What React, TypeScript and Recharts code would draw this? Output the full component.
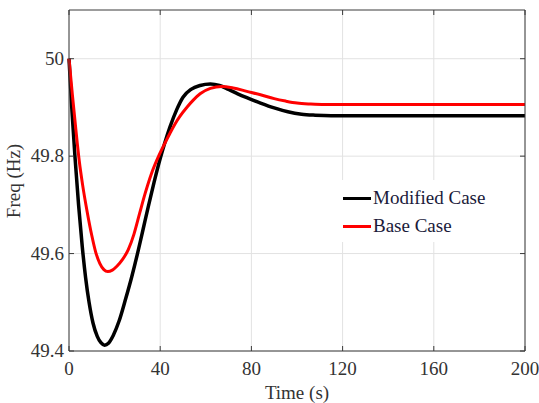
import { LineChart, Line, XAxis, YAxis, CartesianGrid, Legend } from "recharts";

// values
const modifiedTime = [0, 1.2, 2.6, 4.2, 5.8, 7.3, 8.8, 10.5, 12.4, 14, 15.6, 17.3, 19.4, 22, 24.6, 27.5, 30.4, 32.6, 34.8, 37.3, 40, 42, 44.3, 47.2, 50, 53.5, 57.5, 62, 66, 70, 74, 78, 84, 90, 96, 102, 108, 115, 200];
const modifiedFreq = [50.0, 49.9, 49.8, 49.7, 49.615, 49.55, 49.5, 49.458, 49.43, 49.417, 49.412, 49.416, 49.432, 49.462, 49.503, 49.552, 49.607, 49.652, 49.697, 49.746, 49.795, 49.827, 49.86, 49.895, 49.921, 49.937, 49.945, 49.948, 49.945, 49.937, 49.928, 49.92, 49.909, 49.899, 49.891, 49.886, 49.884, 49.883, 49.883];

const baseTime = [0, 1.5, 3, 4.5, 6, 8, 10, 11.7, 13.5, 15.3, 17, 19, 21, 23.5, 26, 28.5, 31, 33.3, 36, 39.6, 42, 44.3, 46.5, 48.7, 52, 54.5, 57.5, 62, 67, 72, 78, 84, 90, 95, 100, 106, 112, 200];
const baseFreq = [50.0, 49.925, 49.855, 49.79, 49.74, 49.685, 49.637, 49.603, 49.58, 49.567, 49.563, 49.566, 49.574, 49.588, 49.608, 49.64, 49.683, 49.722, 49.762, 49.803, 49.826, 49.847, 49.866, 49.882, 49.902, 49.915, 49.928, 49.939, 49.943, 49.94, 49.933, 49.926, 49.918, 49.913, 49.909, 49.907, 49.906, 49.906];

const seriesNames = ["Modified Case", "Base Case"];
const timeTicks = [0, 40, 80, 120, 160, 200];
const freqTicks = [49.4, 49.6, 49.8, 50];

const modifiedData = modifiedTime.map((t, i) => ({ t, f: modifiedFreq[i] }));
const baseData = baseTime.map((t, i) => ({ t, f: baseFreq[i] }));

const FONT = "'Liberation Serif', 'Times New Roman', serif";
const AXIS = "#3a3a3a";
const TEXT = "#333";

function BottomTick({ x, y, payload }: any) {
  return (
    <g>
      <line x1={x} y1={y} x2={x} y2={y - 5} stroke={AXIS} />
      <text x={x} y={y + 24} textAnchor="middle" fontSize={19} fontFamily={FONT} fill={TEXT}>
        {payload.value}
      </text>
    </g>
  );
}

function LeftTick({ x, y, payload }: any) {
  return (
    <g>
      <line x1={x} y1={y} x2={x + 5} y2={y} stroke={AXIS} />
      <text x={x - 5} y={y + 6} textAnchor="end" fontSize={19} fontFamily={FONT} fill={TEXT}>
        {payload.value}
      </text>
    </g>
  );
}

function TopTick({ x, y }: any) {
  return <line x1={x} y1={y} x2={x} y2={y + 5} stroke={AXIS} />;
}

function RightTick({ x, y }: any) {
  return <line x1={x} y1={y} x2={x - 5} y2={y} stroke={AXIS} />;
}

function YTitle() {
  return (
    <text x={20} y={181} transform="rotate(-90 20 181)" textAnchor="middle" fontSize={19} fontFamily={FONT} fill={TEXT}>
      Freq (Hz)
    </text>
  );
}

function XTitle() {
  return (
    <text x={297} y={399} textAnchor="middle" fontSize={19} fontFamily={FONT} fill={TEXT}>
      Time (s)
    </text>
  );
}

function LegendBox({ payload }: any) {
  const items = (payload || [])
    .filter((p: any) => seriesNames.includes(p.value))
    .sort((a: any, b: any) => seriesNames.indexOf(a.value) - seriesNames.indexOf(b.value));
  return (
    <div style={{ background: "#fff", width: 160, height: 62, paddingTop: 4, boxSizing: "border-box" }}>
      {items.map((item: any) => (
        <div key={item.value} style={{ display: "flex", alignItems: "center", height: 28, paddingLeft: 8 }}>
          <span style={{ display: "inline-block", width: 28, height: 3, background: item.color, marginRight: 2 }} />
          <span style={{ fontFamily: FONT, fontSize: 19, color: "#1a1a3a" }}>{item.value}</span>
        </div>
      ))}
    </div>
  );
}

export default function App() {
  return (
    <div style={{ position: "absolute", left: 0, top: 0, width: 539, height: 403, background: "#fff" }}>
      <LineChart width={539} height={403} margin={{ top: 9, right: 13, bottom: 0, left: 9 }}>
        <CartesianGrid stroke="#e2e2e2" strokeWidth={1} horizontalValues={freqTicks} verticalValues={timeTicks} />
        <XAxis
          dataKey="t"
          type="number"
          domain={[0, 200]}
          ticks={timeTicks}
          height={52}
          tickSize={0}
          tickMargin={0}
          tick={<BottomTick />}
          stroke={AXIS}
          allowDuplicatedCategory={false}
          label={<XTitle />}
        />
        <XAxis
          xAxisId="top"
          dataKey="t"
          orientation="top"
          type="number"
          domain={[0, 200]}
          ticks={timeTicks}
          height={1}
          tickSize={0}
          tickMargin={0}
          tick={<TopTick />}
          stroke={AXIS}
          allowDuplicatedCategory={false}
        />
        <YAxis
          type="number"
          domain={[49.4, 50.1]}
          ticks={freqTicks}
          width={60}
          tickSize={0}
          tickMargin={0}
          tick={<LeftTick />}
          stroke={AXIS}
          allowDataOverflow
          label={<YTitle />}
        />
        <YAxis
          yAxisId="right"
          orientation="right"
          type="number"
          domain={[49.4, 50.1]}
          ticks={freqTicks}
          width={1}
          tickSize={0}
          tickMargin={0}
          tick={<RightTick />}
          stroke={AXIS}
          allowDataOverflow
        />
        <Legend
          layout="horizontal"
          verticalAlign="middle"
          align="center"
          content={<LegendBox />}
          wrapperStyle={{ left: 335, top: 180, width: 160 }}
        />
        <Line
          data={modifiedData}
          dataKey="f"
          name="frame"
          xAxisId="top"
          yAxisId="right"
          type="monotone"
          stroke="none"
          dot={false}
          legendType="none"
          isAnimationActive={false}
        />
        <Line
          data={modifiedData}
          dataKey="f"
          name="Modified Case"
          type="monotone"
          stroke="#000"
          strokeWidth={3.5}
          dot={false}
          isAnimationActive={false}
        />
        <Line
          data={baseData}
          dataKey="f"
          name="Base Case"
          type="monotone"
          stroke="#ff0000"
          strokeWidth={3}
          dot={false}
          isAnimationActive={false}
        />
      </LineChart>
    </div>
  );
}
